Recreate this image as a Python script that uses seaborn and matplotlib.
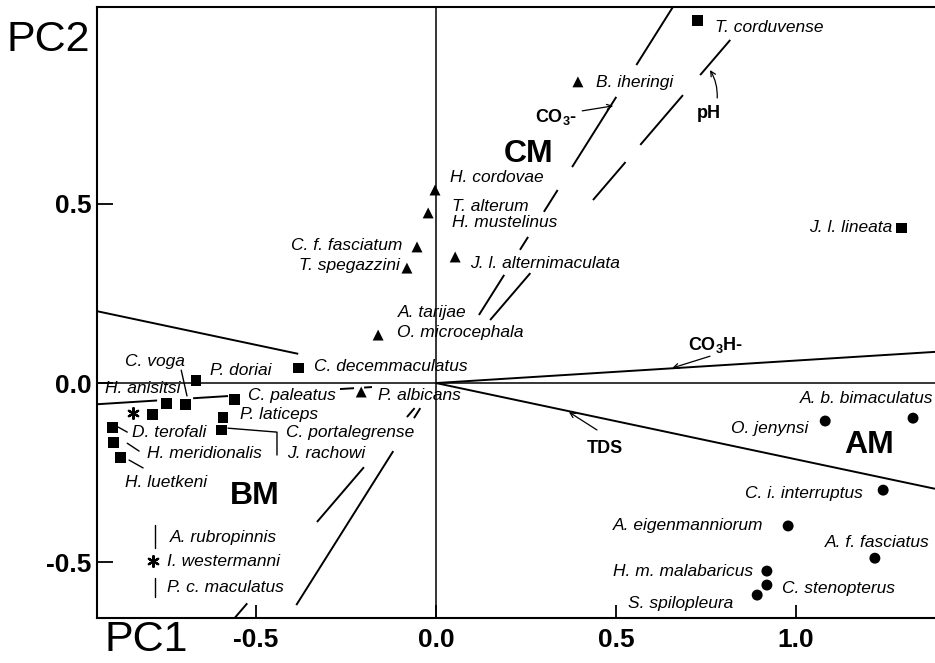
import numpy as np
import pandas as pd
import seaborn as sns
import matplotlib.pyplot as plt

# ---------------- data ----------------
# species scores on the first two principal components
species = [
    "T. corduvense", "J. l. lineata", "C. decemmaculatus", "P. doriai", "C. voga",
    "H. anisitsi", "C. paleatus", "Cheirodon sp.", "P. laticeps", "C. portalegrense",
    "D. terofali", "H. meridionalis", "H. luetkeni",
    "A. rubropinnis", "I. westermanni",
    "B. iheringi", "H. cordovae", "T. alterum", "C. f. fasciatum", "T. spegazzini",
    "J. l. alternimaculata", "O. microcephala", "P. albicans",
    "A. b. bimaculatus", "O. jenynsi", "C. i. interruptus", "A. eigenmanniorum",
    "A. f. fasciatus", "H. m. malabaricus", "C. stenopterus", "S. spilopleura",
]
pc1 = [0.725, 1.294, -0.381, -0.667, -0.697,
       -0.750, -0.561, -0.789, -0.592, -0.597,
       -0.900, -0.897, -0.878,
       -0.842, -0.786,
       0.394, -0.003, -0.022, -0.053, -0.081,
       0.053, -0.161, -0.208,
       1.325, 1.081, 1.242, 0.978,
       1.219, 0.919, 0.919, 0.892]
pc2 = [1.011, 0.433, 0.042, 0.006, -0.059,
       -0.056, -0.047, -0.089, -0.095, -0.131,
       -0.123, -0.165, -0.207,
       -0.084, -0.497,
       0.841, 0.539, 0.475, 0.380, 0.321,
       0.352, 0.134, -0.025,
       -0.098, -0.106, -0.299, -0.399,
       -0.489, -0.525, -0.564, -0.592]
group = (["BM"] * 13 + ["X"] * 2 + ["CM"] * 8 + ["AM"] * 8)

# species name labels: text, anchor x, anchor y, alignment
label_text = ["T. corduvense", "J. l. lineata", "B. iheringi", "H. cordovae", "T. alterum",
              "H. mustelinus", "C. f. fasciatum", "T. spegazzini", "J. l. alternimaculata",
              "A. tarijae", "O. microcephala", "C. voga", "P. doriai", "C. decemmaculatus",
              "H. anisitsi", "C. paleatus", "P. albicans", "P. laticeps", "D. terofali",
              "C. portalegrense", "H. meridionalis", "J. rachowi", "H. luetkeni",
              "A. rubropinnis", "I. westermanni", "P. c. maculatus",
              "A. b. bimaculatus", "O. jenynsi", "C. i. interruptus", "A. eigenmanniorum",
              "A. f. fasciatus", "H. m. malabaricus", "C. stenopterus", "S. spilopleura"]
label_x = [0.775, 1.267, 0.444, 0.039, 0.044,
           0.044, -0.094, -0.100, 0.094,
           -0.106, -0.108, -0.864, -0.628, -0.339,
           -0.919, -0.522, -0.161, -0.544, -0.844,
           -0.417, -0.803, -0.414, -0.864,
           -0.739, -0.747, -0.747,
           1.381, 1.033, 1.186, 0.908,
           1.372, 0.881, 0.961, 0.825]
label_y = [0.992, 0.433, 0.838, 0.573, 0.494,
           0.447, 0.383, 0.327, 0.335,
           0.196, 0.140, 0.059, 0.036, 0.047,
           -0.014, -0.036, -0.034, -0.087, -0.137,
           -0.137, -0.196, -0.196, -0.279,
           -0.430, -0.497, -0.570,
           -0.042, -0.126, -0.307, -0.399,
           -0.444, -0.525, -0.573, -0.615]
label_ha = ["left", "right", "left", "left", "left",
            "left", "right", "right", "left",
            "left", "left", "left", "left", "left",
            "left", "left", "left", "left", "left",
            "left", "left", "left", "left",
            "left", "left", "left",
            "right", "right", "right", "right",
            "right", "right", "left", "right"]

# assemblage names
group_names = ["CM", "BM", "AM"]
group_x = [0.258, -0.503, 1.203]
group_y = [0.640, -0.316, -0.173]

# environmental vectors through the origin: direction (dx, dy)
env_names = ["TDS", "CO$_\\mathbf{3}$H-", "CO$_\\mathbf{3}$-", "pH"]
env_dx = [1.0, 1.0, 0.6265, 0.853]
env_dy = [-0.213, 0.0628, 1.0, 1.0]

# ---------------- figure ----------------
sns.set_style("white")
plt.rcParams["font.family"] = ["Liberation Sans", "DejaVu Sans"]
plt.rcParams["mathtext.fontset"] = "custom"
plt.rcParams["mathtext.rm"] = "Liberation Sans"
plt.rcParams["mathtext.bf"] = "Liberation Sans:bold"
plt.rcParams["mathtext.it"] = "Liberation Sans:italic"
for key in ["text.color", "axes.labelcolor", "xtick.color", "ytick.color",
            "axes.edgecolor", "xtick.labelcolor", "ytick.labelcolor"]:
    plt.rcParams[key] = "black"

W, H = 935, 663
fig = plt.figure(figsize=(W / 100, H / 100), dpi=100)
ax = fig.add_axes([97 / W, 1 - 618 / H, 838 / W, 611 / H])
ax.set_xlim(-0.942, 1.386)
ax.set_ylim(-0.656, 1.050)

ax.axhline(0, color="black", lw=1.1, zorder=1)
ax.axvline(0, color="black", lw=1.1, zorder=1)

# visible stretches of each vector line (parameter along the vector)
env_spans = [
    [(-0.942, -0.383), (0.0, 1.386)],
    [(-0.942, -0.775), (-0.675, -0.578), (-0.267, -0.228), (-0.200, -0.178), (0.0, 1.386)],
    [(0.888, 1.050), (0.603, 0.799), (0.478, 0.539), (0.372, 0.408), (0.190, 0.302),
     (-0.098, -0.070), (-0.620, -0.190)],
    [(0.860, 0.958), (0.665, 0.804), (0.511, 0.617), (0.176, 0.307), (-0.095, -0.070),
     (-0.388, -0.235), (-0.656, -0.615)],
]
for dx, dy, spans in zip(env_dx, env_dy, env_spans):
    for t0, t1 in spans:
        t = np.array([t0, t1])
        ax.plot(t * dx, t * dy, color="black", lw=1.4, solid_capstyle="butt", zorder=1)

df = pd.DataFrame({"species": species, "pc1": pc1, "pc2": pc2, "group": group})
filled = df[df.group != "X"]
sns.scatterplot(data=filled, x="pc1", y="pc2", style="group",
                markers={"BM": "s", "CM": "^", "AM": "o"}, color="black",
                s=62, linewidth=0, legend=False, ax=ax, zorder=3)
stars = df[df.group == "X"]
sns.scatterplot(data=stars, x="pc1", y="pc2", marker=(6, 2, 0), color="black",
                s=60, linewidth=1.6, legend=False, ax=ax, zorder=3)

for txt, x, y, ha in zip(label_text, label_x, label_y, label_ha):
    ax.text(x, y, txt, ha=ha, va="center", fontsize=12.5, style="italic", zorder=4)

for txt, x, y in zip(group_names, group_x, group_y):
    ax.text(x, y, txt, ha="center", va="center", fontsize=23, fontweight="bold", zorder=4)

# leader lines tying names to their symbols
leaders = [
    [(-0.708, 0.036), (-0.692, -0.036)],
    [(-0.883, -0.123), (-0.858, -0.137)],
    [(-0.858, -0.168), (-0.825, -0.190)],
    [(-0.853, -0.215), (-0.814, -0.237)],
    [(-0.578, -0.126), (-0.442, -0.137), (-0.442, -0.201)],
    [(-0.781, -0.397), (-0.781, -0.461)],
    [(-0.781, -0.545), (-0.781, -0.598)],
]
for pts in leaders:
    xs, ys = zip(*pts)
    ax.plot(xs, ys, color="black", lw=1.0, zorder=2)

# vector names with pointers
env_label_pos = [(0.419, -0.184), (0.700, 0.106), (0.275, 0.743), (0.725, 0.754)]
env_arrow_from = [(0.447, -0.131), (0.761, 0.075), (0.406, 0.760), (0.781, 0.796)]
env_arrow_to = [(0.369, -0.081), (0.656, 0.042), (0.492, 0.774), (0.761, 0.874)]
env_rad = [0.0, 0.0, 0.0, 0.15]
for name, (lx, ly), p0, p1, rad in zip(env_names, env_label_pos, env_arrow_from,
                                        env_arrow_to, env_rad):
    ax.text(lx, ly, name, ha="left", va="center", fontsize=13, fontweight="bold", zorder=4)
    ax.annotate("", xy=p1, xytext=p0,
                arrowprops=dict(arrowstyle="->", lw=0.9, color="black",
                                mutation_scale=9, shrinkA=0, shrinkB=0,
                                connectionstyle=f"arc3,rad={rad}"), zorder=4)

# axes frame and ticks
for side in ["left", "bottom", "top"]:
    ax.spines[side].set_visible(True)
    ax.spines[side].set_linewidth(1.5)
    ax.spines[side].set_color("black")
ax.spines["right"].set_visible(False)

ax.set_xticks([-0.5, 0.0, 0.5, 1.0])
ax.set_xticklabels(["-0.5", "0.0", "0.5", "1.0"])
ax.set_yticks([-0.5, 0.0, 0.5])
ax.set_yticklabels(["-0.5", "0.0", "0.5"])
ax.tick_params(axis="x", direction="in", length=9.5, width=1.3, pad=7,
               labelsize=19, bottom=True, top=False, colors="black")
ax.tick_params(axis="y", direction="in", length=11.5, width=1.3, pad=4,
               labelsize=19, left=True, right=False, colors="black")
for lab in ax.get_xticklabels() + ax.get_yticklabels():
    lab.set_fontweight("bold")
ax.set_xlabel("")
ax.set_ylabel("")

fig.text(6 / W, 1 - 40 / H, "PC2", fontsize=31, ha="left", va="center", color="black")
fig.text(104 / W, 1 - 640 / H, "PC1", fontsize=31, ha="left", va="center", color="black")

fig.savefig("out.png", dpi=100, facecolor="white")
